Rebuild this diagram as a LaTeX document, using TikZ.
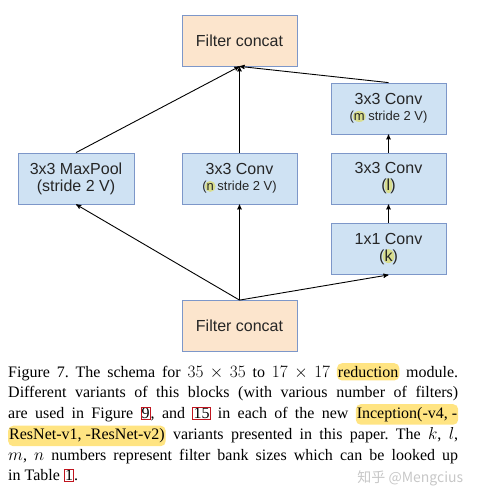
\documentclass[tikz,border=0pt]{standalone}
\usepackage{fontspec}
\setmainfont{Liberation Serif}
\newfontfamily\boxfont{Liberation Sans}
\newfontfamily\cjkfont{Noto Sans CJK SC}
\usetikzlibrary{arrows, positioning}

\definecolor{convblue}{HTML}{CFE2F3}
\definecolor{concatpeach}{HTML}{FCE5CD}
\definecolor{edgeblue}{HTML}{7D97C9}
\definecolor{letterhl}{HTML}{D8DD8E}
\definecolor{wordhl}{HTML}{FFE482}
\definecolor{refred}{HTML}{C0141E}

% small highlights inside texts
\tikzset{hlbase/.style={draw=none, minimum width=0pt, minimum height=0pt, line width=0pt, inner sep=0pt}}
\newcommand{\hlletter}[3][0.42em]{\tikz[baseline=(hlL.base)]{\fill[letterhl, overlay] (0,0.33em) ellipse ({#1} and {#2}); \node[hlbase, anchor=base, font=\boxfont\fontsize{16}{17}\selectfont] (hlL) at (0,0) {#3};}}
\newcommand{\hlword}[1]{\tikz[baseline=(hlW.base)]\node[hlbase,fill=wordhl,rounded corners=5pt,inner xsep=1pt,inner ysep=3pt](hlW){#1};}
\newcommand{\refbox}[1]{{\color{refred}\fboxsep=0.4pt\fboxrule=0.7pt\fbox{\color{black}#1}}}

\begin{document}
\begin{tikzpicture}[->, >=stealth', node distance=70pt, on grid, line width=0.9pt]
  \tikzstyle{conv}=[draw=edgeblue, fill=convblue, line width=0.8pt, minimum width=115pt, minimum height=51pt, align=center, text=black!85, font=\boxfont\fontsize{16}{17}\selectfont]
  \tikzstyle{concat}=[conv, fill=concatpeach]
  \useasboundingbox (0,0) rectangle (480pt,-494pt);
  \node[concat] (topcat) at (239.5pt,-40.5pt) {Filter concat};
  \node[conv] (convn) [below=138pt of topcat] {3x3 Conv\\[-1pt]{\fontsize{13}{14}\selectfont(\hlletter{5.5pt}{\fontsize{13}{14}\selectfont n} stride 2 V)}};
  \node[conv, minimum width=116pt] (pool) [left=163.5pt of convn] {3x3 MaxPool\\(stride 2 V)};
  \node[conv] (convl) [right=149pt of convn] {3x3 Conv\\(\hlletter[4pt]{7.5pt}{l})};
  \node[conv] (convm) [above=of convl] {3x3 Conv\\[-1pt]{\fontsize{13}{14}\selectfont(\hlletter[6.5pt]{5.5pt}{\fontsize{13}{14}\selectfont m} stride 2 V)}};
  \node[conv] (convk) [below=70.5pt of convl] {1x1 Conv\\(\hlletter[6pt]{7pt}{k})};
  \node[concat] (botcat) [below=147.5pt of convn] {Filter concat};
  \path (botcat.north) edge (pool.south);
  \path (botcat.north) edge (convn.south);
  \path (botcat.north) edge (convk.south);
  \path (convk) edge (convl);
  \path (convl) edge (convm);
  \path (pool.north) edge (topcat.south);
  \path (convn) edge (topcat);
  \path (convm.north) edge (topcat.south);
  \node[anchor=north west, text width=450pt, align=justify, inner sep=0pt, font=\fontsize{16}{20.5}\selectfont\frenchspacing] (caption) at (8pt,-363pt) {Figure 7. The schema for $35 \times 35$ to $17 \times 17$ \hlword{reduction} module.\linebreak
    Different variants of this blocks (with various number of filters)\linebreak
    are used in Figure \refbox{9}, and \refbox{15} in each of the new \hlword{Inception(-v4, -}\linebreak
    \hlword{ResNet-v1, -ResNet-v2)} variants presented in this paper. The $k$, $l$,\linebreak
    $m$, $n$ numbers represent filter bank sizes which can be looked up\linebreak
    in Table \refbox{1}.};
  \node[anchor=base east, text=black!22, font=\cjkfont\fontsize{14}{14}\selectfont] (mark) at (467pt,-482pt) {知乎 @Mengcius};
\end{tikzpicture}
\end{document}
